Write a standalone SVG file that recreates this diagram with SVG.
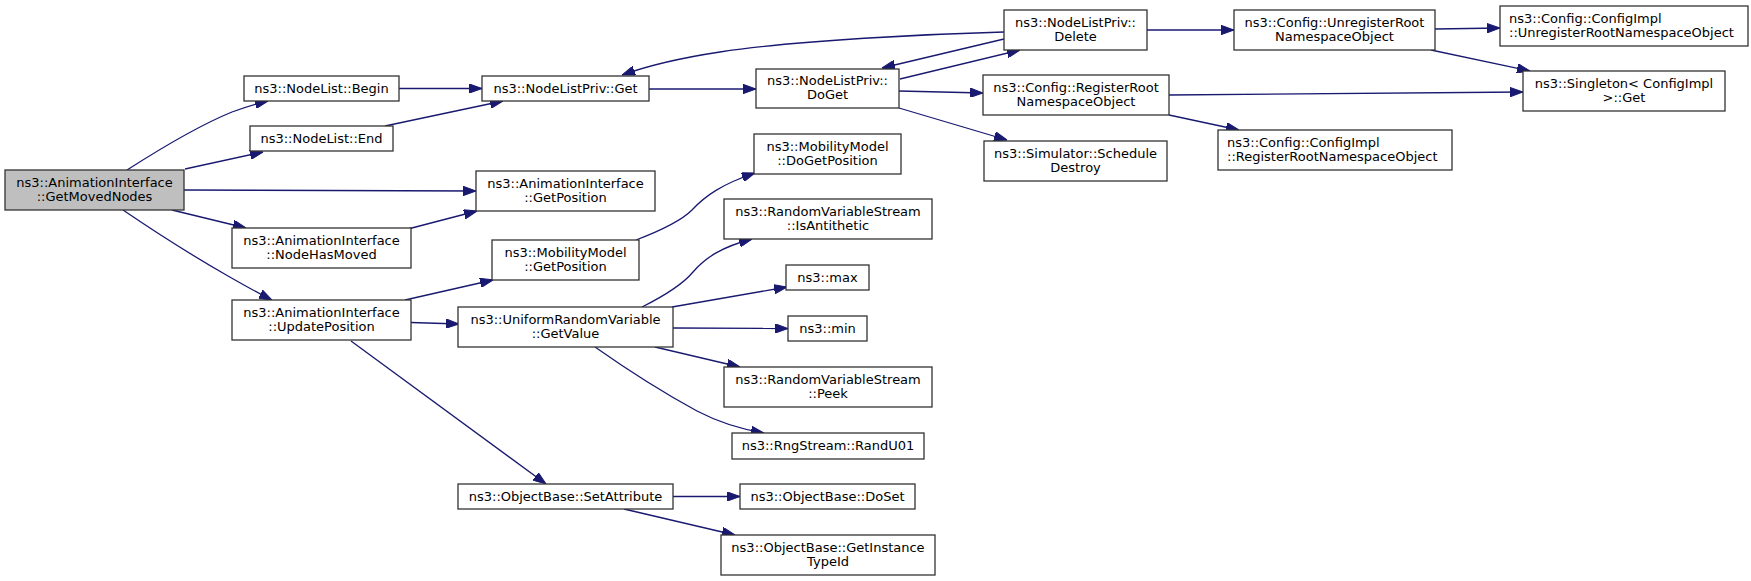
<svg xmlns="http://www.w3.org/2000/svg" width="1751" height="581" viewBox="0 0 1751 581">
<defs>
<style>
.n rect{fill:#ffffff;stroke:#333333;stroke-width:1.3}
.n.root rect{fill:#bfbfbf}
.n text{font-family:"DejaVu Sans","Liberation Sans",sans-serif;font-size:13px;fill:#000000;text-anchor:middle}
.n text.l{text-anchor:start}
.e path{fill:none;stroke:#191970;stroke-width:1.3;marker-end:url(#ah)}
</style>
<marker id="ah" markerUnits="userSpaceOnUse" viewBox="0 0 13 9.4" refX="13" refY="4.7" markerWidth="13" markerHeight="9.4" orient="auto">
<path d="M0,0 L13,4.7 L0,9.4 z" fill="#191970" stroke="#191970" stroke-width="1"/>
</marker>
</defs>
<rect width="1751" height="581" fill="#ffffff"/>
<g id="edges" class="e">
<path d="M127,170 C152,154 195,127 232,112 C243,108 255,104 268,101"/>
<path d="M185,169 L263,152"/>
<path d="M184,190 L476,191"/>
<path d="M172,210 L246,228"/>
<path d="M123,210 C148,227 193,256 228,276 C242,284 256,292 272,300"/>
<path d="M399,88.5 L482,88.5"/>
<path d="M385,126 L503,101"/>
<path d="M649,89 L756,89"/>
<path d="M1004,32 C930,34 800,40 720,52 C680,58 650,65 622,75"/>
<path d="M1004,39 L882,68"/>
<path d="M900,79 L1020,50"/>
<path d="M899,91 L983,93"/>
<path d="M899,108 L1007,140"/>
<path d="M1147,30 L1234,30"/>
<path d="M1435,29 L1500,28"/>
<path d="M1431,50 L1530,71"/>
<path d="M1169,95 L1523,92"/>
<path d="M1169,115 L1239,130"/>
<path d="M408,229 L477,211"/>
<path d="M405,300 L493,280"/>
<path d="M411,322.5 L459,324"/>
<path d="M351,341 L546,484"/>
<path d="M636,240 C657,232 680,222 692,210 C705,196 722,184 755,173"/>
<path d="M642,307 C662,297 683,284 693,272 C706,257 722,247 752,239"/>
<path d="M672,307 L787,287"/>
<path d="M673,328 L788,328.5"/>
<path d="M655,347 L740,367"/>
<path d="M595,347 C622,366 662,392 697,411 C718,422 740,429 764,433"/>
<path d="M673,496.5 L740,496.5"/>
<path d="M624,509 L735,535"/>
</g>
<g id="getMovedNodes" class="n root"><rect x="5" y="170" width="179" height="40"/><text x="94.5" y="186.7">ns3::AnimationInterface</text><text x="94.5" y="200.7">::GetMovedNodes</text></g>
<g id="nodeListBegin" class="n"><rect x="244" y="76" width="155" height="25"/><text x="321.5" y="92.5">ns3::NodeList::Begin</text></g>
<g id="nodeListEnd" class="n"><rect x="250" y="126" width="143" height="25"/><text x="321.5" y="142.5">ns3::NodeList::End</text></g>
<g id="aiGetPosition" class="n"><rect x="476" y="171" width="179" height="40"/><text x="565.5" y="187.7">ns3::AnimationInterface</text><text x="565.5" y="201.7">::GetPosition</text></g>
<g id="aiNodeHasMoved" class="n"><rect x="232" y="228" width="179" height="40"/><text x="321.5" y="244.7">ns3::AnimationInterface</text><text x="321.5" y="258.7">::NodeHasMoved</text></g>
<g id="aiUpdatePosition" class="n"><rect x="232" y="300" width="179" height="40"/><text x="321.5" y="316.7">ns3::AnimationInterface</text><text x="321.5" y="330.7">::UpdatePosition</text></g>
<g id="nodeListPrivGet" class="n"><rect x="482" y="76" width="167" height="25"/><text x="565.5" y="92.5">ns3::NodeListPriv::Get</text></g>
<g id="nodeListPrivDoGet" class="n"><rect x="756" y="69" width="143" height="39"/><text x="827.5" y="85.2">ns3::NodeListPriv::</text><text x="827.5" y="99.2">DoGet</text></g>
<g id="nodeListPrivDelete" class="n"><rect x="1004" y="10" width="143" height="40"/><text x="1075.5" y="26.7">ns3::NodeListPriv::</text><text x="1075.5" y="40.7">Delete</text></g>
<g id="configUnregisterRoot" class="n"><rect x="1234" y="10" width="201" height="40"/><text x="1334.5" y="26.7">ns3::Config::UnregisterRoot</text><text x="1334.5" y="40.7">NamespaceObject</text></g>
<g id="configImplUnregister" class="n"><rect x="1500" y="6" width="248" height="40"/><text class="l" x="1509" y="22.7">ns3::Config::ConfigImpl</text><text class="l" x="1509" y="36.7">::UnregisterRootNamespaceObject</text></g>
<g id="singletonGet" class="n"><rect x="1523" y="71" width="202" height="40"/><text x="1624" y="87.7">ns3::Singleton&lt; ConfigImpl</text><text x="1624" y="101.7">&gt;::Get</text></g>
<g id="configRegisterRoot" class="n"><rect x="983" y="75" width="186" height="40"/><text x="1076" y="91.7">ns3::Config::RegisterRoot</text><text x="1076" y="105.7">NamespaceObject</text></g>
<g id="configImplRegister" class="n"><rect x="1218" y="130" width="234" height="40"/><text class="l" x="1227" y="146.7">ns3::Config::ConfigImpl</text><text class="l" x="1227" y="160.7">::RegisterRootNamespaceObject</text></g>
<g id="simulatorScheduleDestroy" class="n"><rect x="984" y="141" width="183" height="40"/><text x="1075.5" y="157.7">ns3::Simulator::Schedule</text><text x="1075.5" y="171.7">Destroy</text></g>
<g id="mmGetPosition" class="n"><rect x="492" y="240" width="147" height="40"/><text x="565.5" y="256.7">ns3::MobilityModel</text><text x="565.5" y="270.7">::GetPosition</text></g>
<g id="mmDoGetPosition" class="n"><rect x="754" y="134" width="147" height="40"/><text x="827.5" y="150.7">ns3::MobilityModel</text><text x="827.5" y="164.7">::DoGetPosition</text></g>
<g id="urvGetValue" class="n"><rect x="458" y="307" width="215" height="40"/><text x="565.5" y="323.7">ns3::UniformRandomVariable</text><text x="565.5" y="337.7">::GetValue</text></g>
<g id="rvsIsAntithetic" class="n"><rect x="724" y="199" width="208" height="40"/><text x="828" y="215.7">ns3::RandomVariableStream</text><text x="828" y="229.7">::IsAntithetic</text></g>
<g id="max" class="n"><rect x="786" y="265" width="83" height="25"/><text x="827.5" y="281.5">ns3::max</text></g>
<g id="min" class="n"><rect x="788" y="316" width="79" height="25"/><text x="827.5" y="332.5">ns3::min</text></g>
<g id="rvsPeek" class="n"><rect x="724" y="367" width="208" height="40"/><text x="828" y="383.7">ns3::RandomVariableStream</text><text x="828" y="397.7">::Peek</text></g>
<g id="rngRandU01" class="n"><rect x="732" y="433" width="192" height="26"/><text x="828" y="450">ns3::RngStream::RandU01</text></g>
<g id="obSetAttribute" class="n"><rect x="458" y="484" width="215" height="25"/><text x="565.5" y="500.5">ns3::ObjectBase::SetAttribute</text></g>
<g id="obDoSet" class="n"><rect x="740" y="484" width="175" height="25"/><text x="827.5" y="500.5">ns3::ObjectBase::DoSet</text></g>
<g id="obGetInstanceTypeId" class="n"><rect x="721" y="535" width="214" height="40"/><text x="828" y="551.7">ns3::ObjectBase::GetInstance</text><text x="828" y="565.7">TypeId</text></g>
</svg>
